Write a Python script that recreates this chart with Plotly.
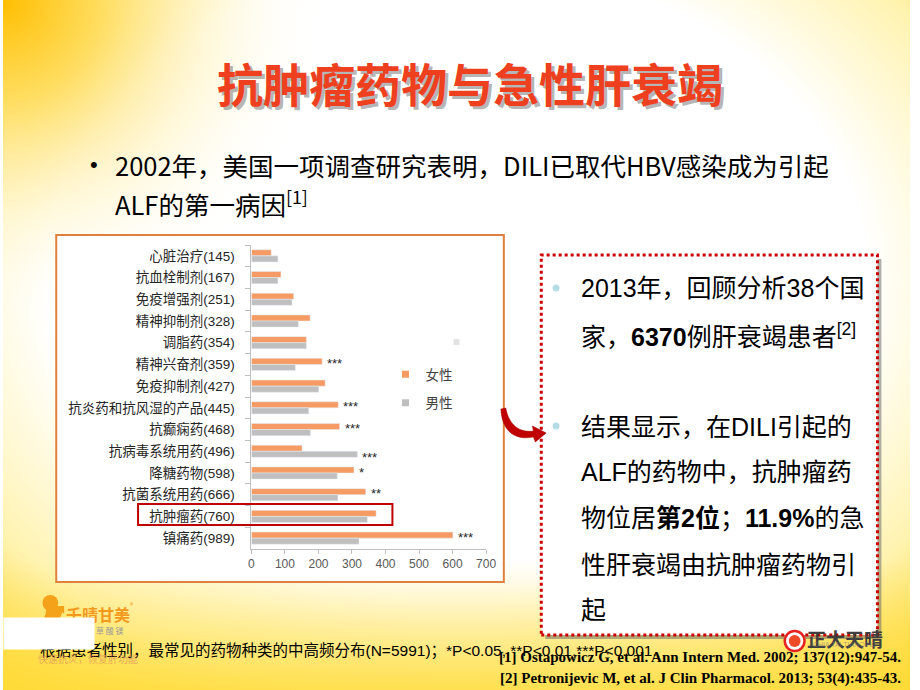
import base64
import plotly.graph_objects as go

# ---------------- data ----------------
categories = ["心脏治疗(145)", "抗血栓制剂(167)", "免疫增强剂(251)", "精神抑制剂(328)",
              "调脂药(354)", "精神兴奋剂(359)", "免疫抑制剂(427)", "抗炎药和抗风湿的产品(445)",
              "抗癫痫药(468)", "抗病毒系统用药(496)", "降糖药物(598)", "抗菌系统用药(666)",
              "抗肿瘤药(760)", "镇痛药(989)"]
female = [59, 88, 126, 175, 164, 211, 220, 259, 263, 151, 306, 341, 372, 601]
male = [79, 79, 121, 140, 164, 131, 201, 171, 176, 316, 256, 258, 346, 321]
significance = ["", "", "", "", "", "***", "", "***", "***", "***", "*", "**", "", "***"]
x_ticks = [0, 100, 200, 300, 400, 500, 600, 700]
series_names = ["女性", "男性"]

W, H = 920, 690
def px(x): return x / W
def py(y): return 1 - y / H

FEMALE_C = "#F59B63"
MALE_C = "#BFBFBF"
CJK = "Noto Sans CJK SC"
SANS = "Liberation Sans, Noto Sans CJK SC"
NARROW = "Liberation Sans Narrow, Noto Sans CJK SC"

# ---------------- background ----------------
svg = """<svg xmlns='http://www.w3.org/2000/svg' width='920' height='690' viewBox='0 0 920 690' preserveAspectRatio='none'>
<defs>
<radialGradient id='edge' cx='0.5' cy='0.40' r='0.78'>
<stop offset='0' stop-color='#FFFFFF'/>
<stop offset='0.58' stop-color='#FFFFFF'/>
<stop offset='0.80' stop-color='#FFF3B0'/>
<stop offset='1' stop-color='#FFD21C'/>
</radialGradient>
<radialGradient id='tl' cx='0' cy='0' r='330' gradientUnits='userSpaceOnUse'>
<stop offset='0' stop-color='#FFBE00' stop-opacity='1'/>
<stop offset='0.30' stop-color='#FFD84A' stop-opacity='0.85'/>
<stop offset='0.65' stop-color='#FFF0B0' stop-opacity='0.45'/>
<stop offset='1' stop-color='#FFFFFF' stop-opacity='0'/>
</radialGradient>
<linearGradient id='bot' x1='0' y1='560' x2='0' y2='690' gradientUnits='userSpaceOnUse'>
<stop offset='0' stop-color='#FFE45C' stop-opacity='0'/>
<stop offset='1' stop-color='#FFDC3C' stop-opacity='0.85'/>
</linearGradient>
</defs>
<rect x='0' y='0' width='920' height='690' fill='url(#edge)'/>
<rect x='0' y='0' width='920' height='690' fill='url(#tl)'/>
<rect x='0' y='0' width='920' height='690' fill='url(#bot)'/>
</svg>"""
bg_uri = "data:image/svg+xml;base64," + base64.b64encode(svg.encode("utf-8")).decode("ascii")

# ---------------- traces ----------------
fig = go.Figure()
fig.add_trace(go.Bar(y=categories, x=female, orientation="h", name=series_names[0],
                     marker_color=FEMALE_C, showlegend=False))
fig.add_trace(go.Bar(y=categories, x=male, orientation="h", name=series_names[1],
                     marker_color=MALE_C, showlegend=False))
# legend proxies (small square symbols)
for nm, c in zip(series_names, [FEMALE_C, MALE_C]):
    fig.add_trace(go.Scatter(x=[None], y=[None], mode="markers", name=nm, legendgroup=nm,
                             marker=dict(symbol="square", size=7, color=c)))

shapes = []
annotations = []

def rect(x0, y0, x1, y1, **kw):
    d = dict(type="rect", xref="paper", yref="paper", x0=px(x0), x1=px(x1), y0=py(y1), y1=py(y0))
    d.update(kw)
    shapes.append(d)

def text(x, y, s, size, color="#000000", family=SANS, xanchor="left", **kw):
    d = dict(x=px(x), y=py(y), xref="paper", yref="paper", text=s, showarrow=False,
             xanchor=xanchor, yanchor="middle", font=dict(size=size, color=color, family=family))
    d.update(kw)
    annotations.append(d)

def P(x, y): return f"{px(x):.5f},{py(y):.5f}"

# chart box
rect(54, 235, 508, 582, fillcolor="#FFFFFF", line=dict(color="#E0803E", width=2), layer="below")
# small grey marker artefact
rect(457, 339, 463, 345, fillcolor="#E3E3E3", line=dict(width=0), layer="below")
# highlight box around 抗肿瘤药
rect(137, 504, 395, 525, fillcolor="rgba(0,0,0,0)", line=dict(color="#C00000", width=2), layer="above")

# right text box: shadow, fill, dotted border
rect(550, 259, 891, 639, fillcolor="rgba(110,110,110,0.55)", line=dict(width=0), layer="below")
rect(546, 255, 887, 635, fillcolor="#FFFFFF", line=dict(width=0), layer="below")
rect(546, 255, 887, 635, fillcolor="rgba(0,0,0,0)", line=dict(color="#CC0000", width=3, dash="dot"), layer="above")

# bullet dots in the right box
for yy in (288, 426):
    shapes.append(dict(type="circle", xref="paper", yref="paper", x0=px(557.5), x1=px(564.5),
                       y0=py(yy + 3.5), y1=py(yy - 3.5),
                       fillcolor="#B4DDE6", line=dict(width=0), layer="above"))

# curved red arrow
path = ("M " + P(505, 409) + " C " + P(506, 430) + " " + P(518, 441) + " " + P(538, 437) +
        " L " + P(540, 442) + " L " + P(551, 433) + " L " + P(537, 426) + " L " + P(538, 431) +
        " C " + P(524, 433) + " " + P(513, 425) + " " + P(510, 408) + " Z")
shapes.append(dict(type="path", xref="paper", yref="paper", path=path,
                   fillcolor="#C00000", line=dict(color="#A00000", width=0.5), layer="above"))

# bottom-left logo swoosh
shapes.append(dict(type="circle", xref="paper", yref="paper", x0=px(40), x1=px(56), y0=py(611), y1=py(595),
                   fillcolor="#F5A21B", line=dict(width=0), layer="above"))
logo_path = ("M " + P(44, 606) + " C " + P(44, 620) + " " + P(38, 625) + " " + P(28, 628) +
             " L " + P(30, 632) + " C " + P(48, 630) + " " + P(58, 622) + " " + P(60, 612) +
             " L " + P(62, 614) + " L " + P(62, 606) + " Z")
shapes.append(dict(type="path", xref="paper", yref="paper", path=logo_path,
                   fillcolor="#F5A21B", line=dict(width=0), layer="above"))
# bottom-right logo circle
shapes.append(dict(type="circle", xref="paper", yref="paper", x0=px(793), x1=px(813), y0=py(651), y1=py(631),
                   fillcolor="#FFFFFF", line=dict(color="#E52421", width=2.5), layer="above"))
shapes.append(dict(type="circle", xref="paper", yref="paper", x0=px(797), x1=px(809), y0=py(647), y1=py(635),
                   fillcolor="#EE4A2A", line=dict(width=0), layer="above"))

# ---------------- texts ----------------
# title with shadow
title = "抗肿瘤药物与急性肝衰竭"
text(477, 85, "<b>" + title + "</b>", 46, color="rgba(90,90,90,0.45)", family=CJK, xanchor="center")
text(474, 82, "<b>" + title + "</b>", 46, color="#EE3F1F", family=CJK, xanchor="center")

# first bullet
text(86, 165, "•", 22, family=SANS)
text(112, 165, "2002年，美国一项调查研究表明，DILI已取代HBV感染成为引起", 25.5, family=NARROW)
text(112, 203, "ALF的第一病因<sup>[1]</sup>", 25.5, family=NARROW)

# right box text
right_lines = [
    (288, "2013年，回顾分析38个国"),
    (335, "家，<b>6370</b>例肝衰竭患者<sup>[2]</sup>"),
    (427, "结果显示，在DILI引起的"),
    (472, "ALF的药物中，抗肿瘤药"),
    (518, "物位居<b>第2位</b>；<b>11.9%</b>的急"),
    (565, "性肝衰竭由抗肿瘤药物引"),
    (610, "起"),
]
for yy, s in right_lines:
    text(584, yy, s, 25, family=SANS)

# footer
text(36, 651, "根据患者性别，最常见的药物种类的中高频分布(N=5991)；*P<0.05, **P<0.01,***P<0.001.", 15.5,
     family=SANS)
# logo texts
text(62, 614, "<b>千晴甘美</b>", 16, color="#F39A1E", family=CJK)
text(127, 605, "®", 7, color="#F39A1E", family=CJK)
text(92, 630, "草 酸 镁", 8, color="#9A9A9A", family=CJK)
# white patch covering part of the footer (drawn after the footer text)
annotations.append(dict(x=px(0), y=py(617), xref="paper", yref="paper", text=" ", showarrow=False,
                        xanchor="left", yanchor="top", width=90, height=31, bgcolor="#FFFFFF",
                        borderpad=0, font=dict(size=4)))
text(33, 658, "快速抗炎，恢复肝功能", 10, color="rgba(225,150,90,0.75)", family=CJK)

# references
annotations.append(dict(x=px(913), y=py(657), xref="paper", yref="paper",
                        text="<b>[1] Ostapowicz G, et al. Ann Intern Med. 2002; 137(12):947-54.</b>",
                        showarrow=False, xanchor="right", yanchor="middle",
                        font=dict(size=15, color="#000000", family="Liberation Serif")))
annotations.append(dict(x=px(913), y=py(678), xref="paper", yref="paper",
                        text="<b>[2] Petronijevic M, et al. J Clin Pharmacol. 2013; 53(4):435-43.</b>",
                        showarrow=False, xanchor="right", yanchor="middle",
                        font=dict(size=15, color="#000000", family="Liberation Serif")))
# bottom-right logo text
text(854, 638, "<b>正大天晴</b>", 19, color="#3F3F3F", family=CJK, xanchor="center")
text(854, 645, "CHIA TAI TIANQING", 7, color="rgba(120,120,120,0.6)", family=SANS, xanchor="center")

# significance markers from data
for cat, f, m, s in zip(categories, female, male, significance):
    if not s:
        continue
    if f >= m:
        xv, ys = f, 1
    else:
        xv, ys = m, -6
    annotations.append(dict(x=xv, y=cat, xref="x", yref="y", text=s, showarrow=False,
                            xanchor="left", yanchor="middle", xshift=3, yshift=ys,
                            font=dict(size=13, color="#262626", family=SANS)))

fig.update_layout(
    width=W, height=H,
    margin=dict(l=0, r=0, t=0, b=0),
    paper_bgcolor="#FFFFFF",
    plot_bgcolor="rgba(0,0,0,0)",
    barmode="group",
    bargap=0.44,
    bargroupgap=0.0,
    images=[dict(source=bg_uri, xref="paper", yref="paper", x=0, y=1, sizex=1, sizey=1,
                 sizing="stretch", layer="below", xanchor="left", yanchor="top")],
    shapes=shapes,
    annotations=annotations,
    xaxis=dict(domain=[px(252), px(490)], range=[0, 700], tickvals=x_ticks,
               showgrid=False, zeroline=False, showline=True, linecolor="#BFBFBF", linewidth=1,
               ticks="outside", ticklen=4, tickcolor="#BFBFBF",
               tickfont=dict(size=12, color="#595959", family=SANS), anchor="y"),
    yaxis=dict(domain=[py(549), py(245)], type="category", categoryorder="array",
               categoryarray=categories, autorange="reversed",
               showgrid=False, zeroline=False, showline=True, linecolor="#BFBFBF", linewidth=1,
               ticks="outside", ticklen=5, tickcolor="#BFBFBF", tickson="boundaries",
               ticklabelstandoff=13,
               tickfont=dict(size=13.5, color="#262626", family=SANS), anchor="x"),
    legend=dict(x=px(388), y=py(359), xanchor="left", yanchor="top",
                bgcolor="rgba(0,0,0,0)", font=dict(size=13.5, color="#404040", family=SANS),
                tracegroupgap=8, itemwidth=30),
    showlegend=True,
)

fig.write_html("out.html")
